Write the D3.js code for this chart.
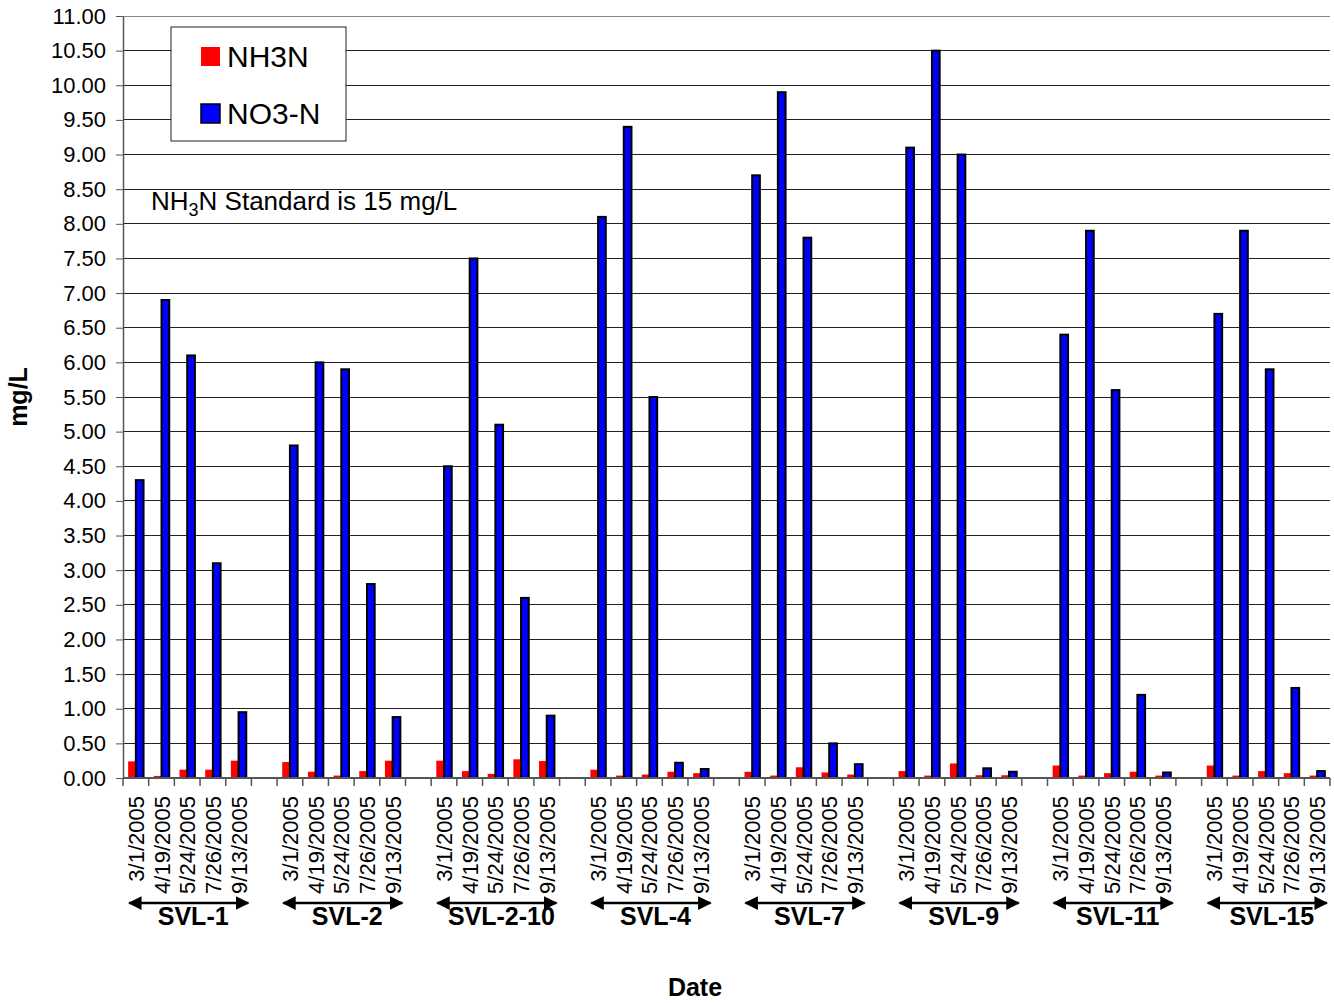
<!DOCTYPE html>
<meta charset="utf-8">
<html>
<head>
<script src="https://d3js.org/d3.v7.min.js"></script>
<style>
body { margin: 0; background: #fff; }
text { font-family: "Liberation Sans", Arial, sans-serif; }
</style>
</head>
<body>
<div id="chart"></div>
<script>
// sites and sampling dates
var sites = ["SVL-1", "SVL-2", "SVL-2-10", "SVL-4", "SVL-7", "SVL-9", "SVL-11", "SVL-15"];
var dates = ["3/1/2005", "4/19/2005", "5/24/2005", "7/26/2005", "9/13/2005"];
var series = ["NH3N", "NO3-N"];
var colors = ["#ff0000", "#0000ff"];

// values per site, one entry per date
var nh3n = [
  [0.24, 0.03, 0.12, 0.12, 0.25],
  [0.23, 0.09, 0.035, 0.10, 0.25],
  [0.25, 0.10, 0.06, 0.27, 0.245],
  [0.12, 0.035, 0.05, 0.09, 0.07],
  [0.09, 0.035, 0.155, 0.08, 0.05],
  [0.10, 0.035, 0.21, 0.04, 0.04],
  [0.18, 0.035, 0.07, 0.09, 0.035],
  [0.18, 0.035, 0.10, 0.07, 0.035]
];
var no3n = [
  [4.3, 6.9, 6.1, 3.1, 0.95],
  [4.8, 6.0, 5.9, 2.8, 0.88],
  [4.5, 7.5, 5.1, 2.6, 0.90],
  [8.1, 9.4, 5.5, 0.22, 0.13],
  [8.7, 9.9, 7.8, 0.50, 0.20],
  [9.1, 10.5, 9.0, 0.14, 0.09],
  [6.4, 7.9, 5.6, 1.2, 0.08],
  [6.7, 7.9, 5.9, 1.3, 0.10]
];
var yTicks = d3.range(0, 11.01, 0.5);

var W = 1334, H = 1003;
var margin = {top: 16, right: 4, bottom: 225, left: 123};
var width = W - margin.left - margin.right,
    height = H - margin.top - margin.bottom;

var svg = d3.select("#chart").append("svg")
    .attr("width", W).attr("height", H)
  .append("g")
    .attr("transform", "translate(" + margin.left + "," + margin.top + ")");

// slots: 5 dates per site, one empty slot between sites
var slots = [];
sites.forEach(function(s, i) {
  dates.forEach(function(d, j) { slots.push({key: s + "|" + d, site: i, date: j}); });
  if (i < sites.length - 1) slots.push({key: "gap" + i, site: -1});
});

var x = d3.scaleBand()
    .domain(slots.map(function(d) { return d.key; }))
    .range([0, width]);
var bw = x.bandwidth();
var x1 = d3.scaleBand().domain(series).range([bw * 0.2, bw * 0.8]);

var y = d3.scaleLinear().domain([0, 11]).range([height, 0]);

// gridlines
svg.append("g").selectAll("line")
  .data(yTicks.slice(1))
  .enter().append("line")
    .attr("x1", 0).attr("x2", width)
    .attr("y1", function(d) { return y(d); })
    .attr("y2", function(d) { return y(d); })
    .attr("stroke", function(d) { return d === 11 ? "#888" : "#222"; })
    .attr("stroke-width", 1)
    .attr("shape-rendering", "crispEdges");

// y axis
var yAxis = svg.append("g")
    .call(d3.axisLeft(y).tickValues(yTicks).tickFormat(d3.format(".2f")).tickSize(7).tickSizeOuter(0));
yAxis.select(".domain").attr("stroke", "#555").attr("stroke-width", 1.5);
yAxis.selectAll(".tick line").attr("stroke", "#555");
yAxis.selectAll("text")
    .attr("font-size", "22px").attr("fill", "#000").attr("x", -17)
    .style("font-family", "Liberation Sans, Arial, sans-serif");

// bars
var barData = [];
slots.forEach(function(s) {
  if (s.site < 0) return;
  barData.push({key: s.key, ser: 0, v: nh3n[s.site][s.date]});
  barData.push({key: s.key, ser: 1, v: no3n[s.site][s.date]});
});

svg.append("g").selectAll("rect")
  .data(barData)
  .enter().append("rect")
    .attr("x", function(d) { return x(d.key) + x1(series[d.ser]); })
    .attr("y", function(d) { return y(d.v); })
    .attr("width", x1.bandwidth())
    .attr("height", function(d) { return height - y(d.v); })
    .attr("fill", function(d) { return colors[d.ser]; })
    .attr("stroke", function(d) { return d.ser === 1 ? "#000" : "none"; })
    .attr("stroke-width", 2);

// x axis
var xAxis = svg.append("g")
    .attr("transform", "translate(0," + height + ")");
xAxis.append("line")
    .attr("x1", 0).attr("x2", width)
    .attr("stroke", "#555").attr("stroke-width", 2);
xAxis.selectAll(".tk")
  .data(slots.map(function(d) { return x(d.key); }).concat([width]))
  .enter().append("line")
    .attr("x1", function(d) { return d; }).attr("x2", function(d) { return d; })
    .attr("y1", 0).attr("y2", 8)
    .attr("stroke", "#555").attr("stroke-width", 1.5);

// date labels
xAxis.selectAll(".dl")
  .data(slots.filter(function(d) { return d.site >= 0; }))
  .enter().append("text")
    .attr("transform", function(d) {
      return "translate(" + (x(d.key) + bw / 2 + 8) + ",18) rotate(-90)";
    })
    .attr("text-anchor", "end")
    .attr("font-size", "22px")
    .text(function(d) { return dates[d.date]; });

// site arrows and labels
var defs = svg.append("defs");
defs.append("marker")
    .attr("id", "arr")
    .attr("viewBox", "0 0 10 10")
    .attr("refX", 9).attr("refY", 5)
    .attr("markerWidth", 5.5).attr("markerHeight", 5.5)
    .attr("orient", "auto-start-reverse")
    .append("path").attr("d", "M0,0 L10,5 L0,10 z").attr("fill", "#000");

sites.forEach(function(s, i) {
  var x0 = x(s + "|" + dates[0]), xe = x(s + "|" + dates[4]) + bw;
  var cx = (x0 + xe) / 2;
  svg.append("line")
    .attr("x1", cx - 58).attr("x2", cx + 61)
    .attr("y1", height + 125).attr("y2", height + 125)
    .attr("stroke", "#000").attr("stroke-width", 2.5)
    .attr("marker-start", "url(#arr)")
    .attr("marker-end", "url(#arr)");
  svg.append("text")
    .attr("x", cx + 6).attr("y", height + 147)
    .attr("text-anchor", "middle")
    .attr("font-size", "25px").attr("font-weight", "bold")
    .text(s);
});

// axis titles
svg.append("text")
    .attr("transform", "translate(-96," + (397 - margin.top) + ") rotate(-90)")
    .attr("text-anchor", "middle")
    .attr("font-size", "25px").attr("font-weight", "bold")
    .text("mg/L");
svg.append("text")
    .attr("x", 695 - margin.left).attr("y", 996 - margin.top)
    .attr("text-anchor", "middle")
    .attr("font-size", "25px").attr("font-weight", "bold")
    .text("Date");

// legend
var lg = svg.append("g").attr("transform", "translate(" + (171 - margin.left) + "," + (27 - margin.top) + ")");
lg.append("rect").attr("width", 175).attr("height", 114)
    .attr("fill", "#fff").attr("stroke", "#222").attr("stroke-width", 1);
series.forEach(function(s, i) {
  lg.append("rect")
    .attr("x", 30).attr("y", 20 + i * 57).attr("width", 19).attr("height", 19)
    .attr("fill", colors[i])
    .attr("stroke", i === 1 ? "#000" : "none").attr("stroke-width", 1.5);
  lg.append("text")
    .attr("x", 56).attr("y", 40 + i * 57)
    .attr("font-size", "30px")
    .text(s);
});

// standard note
var note = svg.append("text")
    .attr("x", 151 - margin.left).attr("y", 210 - margin.top)
    .attr("font-size", "26px");
note.append("tspan").text("NH");
note.append("tspan").attr("font-size", "18px").attr("dy", 6).text("3");
note.append("tspan").attr("dy", -6).text("N Standard is 15 mg/L");
</script>
</body>
</html>
